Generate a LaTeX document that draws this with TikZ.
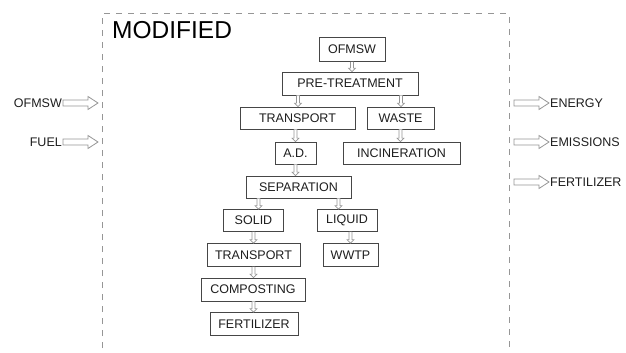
\documentclass[tikz,border=0pt]{standalone}
\usepackage{fontspec}
\setmainfont{Liberation Sans}
\usetikzlibrary{arrows.meta,calc}
\definecolor{boxline}{RGB}{70,70,70}
\definecolor{arrline}{RGB}{150,150,150}
\definecolor{txt}{RGB}{30,30,30}
\tikzset{
  stepbox/.style={draw=boxline, line width=0.8pt, fill=white, text=txt,
    inner sep=0pt, font=\fontsize{12.5}{12.5}\selectfont},
  sidelabel/.style={text=txt, font=\fontsize{12.5}{12.5}\selectfont, inner sep=0pt},
}
% horizontal outlined block arrow
\newcommand{\blockarrow}[2]{%
  \draw[arrline, line width=0.8pt, fill=white]
    ($(#1)+(0,-3)$) -- ($(#2)+(-10,-3)$) -- ($(#2)+(-10,-6.5)$) -- (#2)
    -- ($(#2)+(-10,6.5)$) -- ($(#2)+(-10,3)$) -- ($(#1)+(0,3)$) -- cycle;}
% vertical small outlined block arrow (downwards)
\newcommand{\flowarrow}[2]{%
  \draw[arrline, line width=0.6pt, fill=white]
    ($(#1)+(-1.5,0)$) -- ($(#2)+(-1.5,-3.5)$) -- ($(#2)+(-3.5,-3.5)$) -- (#2)
    -- ($(#2)+(3.5,-3.5)$) -- ($(#2)+(1.5,-3.5)$) -- ($(#1)+(1.5,0)$);}
\begin{document}
\begin{tikzpicture}[x=1pt,y=-1pt]
\useasboundingbox (0,0) rectangle (626,353);
% dashed frame
\draw[arrline, line width=1pt, dash pattern=on 6pt off 6pt]
  (102,360) -- (102,14) -- (509,14) -- (509,360);
\node[anchor=north west, inner sep=0pt, font=\fontsize{24.5}{24.5}\selectfont, text=black] (title) at (112,21) {MODIFIED};

% boxes
\node[stepbox, minimum width=66pt, minimum height=24pt] (ofmsw) at (352,49.5) {OFMSW};
\node[stepbox, minimum width=136pt, minimum height=23pt] (pre) at (350,83.5) {PRE-TREATMENT};
\node[stepbox, minimum width=115pt, minimum height=22pt] (tr1) at (297.5,118) {TRANSPORT};
\node[stepbox, minimum width=67pt, minimum height=22pt] (waste) at (400.5,118) {WASTE};
\node[stepbox, minimum width=41pt, minimum height=22pt] (ad) at (295.5,153) {A.D.};
\node[stepbox, minimum width=117pt, minimum height=22pt] (inc) at (401.5,153) {INCINERATION};
\node[stepbox, minimum width=105pt, minimum height=22pt] (sep) at (298.5,187) {SEPARATION};
\node[stepbox, minimum width=60pt, minimum height=22pt] (solid) at (253.5,220.5) {SOLID};
\node[stepbox, minimum width=60pt, minimum height=22pt] (liquid) at (347,220.5) {LIQUID};
\node[stepbox, minimum width=93pt, minimum height=23pt] (tr2) at (253.5,255) {TRANSPORT};
\node[stepbox, minimum width=55pt, minimum height=23pt] (wwtp) at (350.5,255) {WWTP};
\node[stepbox, minimum width=104pt, minimum height=23pt] (comp) at (253,289.5) {COMPOSTING};
\node[stepbox, minimum width=88pt, minimum height=23pt] (fert) at (254,324) {FERTILIZER};

% arrow start points on wide boxes
\coordinate (preL) at ($(pre.south)+(-52,0)$);
\coordinate (preR) at ($(pre.south)+(51,0)$);
\coordinate (sepL) at ($(sep.south)+(-40,0)$);
\coordinate (sepR) at ($(sep.south)+(40,0)$);

% flow arrows
\flowarrow{ofmsw.south}{pre.north -| ofmsw.south}
\flowarrow{preL}{preL |- tr1.north}
\flowarrow{preR}{preR |- waste.north}
\flowarrow{tr1.south -| ad.north}{ad.north}
\flowarrow{waste.south}{waste.south |- inc.north}
\flowarrow{ad.south}{ad.south |- sep.north}
\flowarrow{sepL}{sepL |- solid.north}
\flowarrow{sepR}{sepR |- liquid.north}
\flowarrow{solid.south}{solid.south |- tr2.north}
\flowarrow{liquid.south -| wwtp.north}{wwtp.north}
\flowarrow{tr2.south}{tr2.south |- comp.north}
\flowarrow{comp.south -| tr2.south}{tr2.south |- fert.north}

% side inputs
\node[sidelabel, anchor=east] (inO) at (62,103) {OFMSW};
\node[sidelabel, anchor=east] (inF) at (62,142) {FUEL};
\coordinate (inOa) at (63,103); \coordinate (inOb) at (98,103);
\coordinate (inFa) at (63,142); \coordinate (inFb) at (98,142);
\blockarrow{inOa}{inOb}
\blockarrow{inFa}{inFb}

% side outputs
\coordinate (oEa) at (514,103); \coordinate (oEb) at (549,103);
\coordinate (oMa) at (514,142); \coordinate (oMb) at (549,142);
\coordinate (oFa) at (514,182); \coordinate (oFb) at (549,182);
\blockarrow{oEa}{oEb}
\blockarrow{oMa}{oMb}
\blockarrow{oFa}{oFb}
\node[sidelabel, anchor=west] (outE) at (550,103) {ENERGY};
\node[sidelabel, anchor=west] (outM) at (550,142) {EMISSIONS};
\node[sidelabel, anchor=west] (outF) at (550,182) {FERTILIZER};
\end{tikzpicture}
\end{document}
